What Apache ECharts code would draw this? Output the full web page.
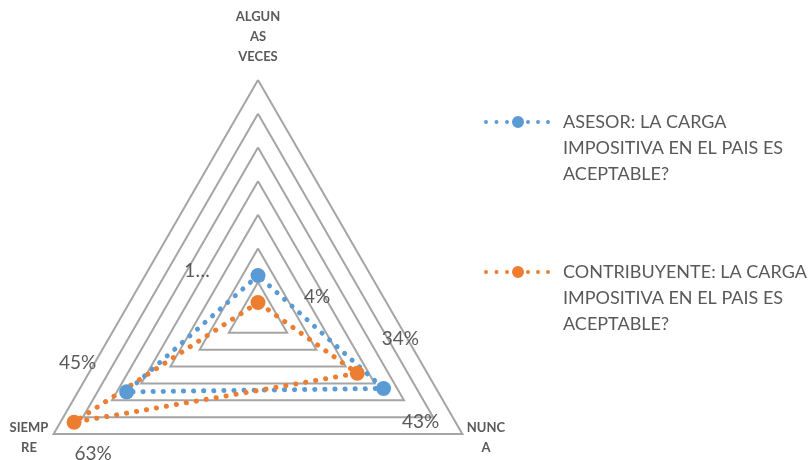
<!DOCTYPE html>
<html>
<head>
<meta charset="utf-8">
<script src="https://cdn.jsdelivr.net/npm/echarts@6/dist/echarts.min.js"></script>
<style>
  html, body { margin: 0; padding: 0; background: #fff; }
  #chart { width: 811px; height: 460px; }
</style>
</head>
<body>
<div id="chart"></div>
<script>
// categories (order: top, bottom-left, bottom-right)
const indicatorNames = ['ALGUNAS VECES', 'SIEMPRE', 'NUNCA'];
const axisNameText = ['ALGUN\nAS\nVECES', 'SIEMP\nRE', 'NUNC\nA'];

// series
const seriesNames = [
  'ASESOR: LA CARGA IMPOSITIVA EN EL PAIS ES ACEPTABLE?',
  'CONTRIBUYENTE: LA CARGA IMPOSITIVA EN EL PAIS ES ACEPTABLE?'
];
const legendText = [
  'ASESOR: LA CARGA\nIMPOSITIVA EN EL PAIS ES\nACEPTABLE?',
  'CONTRIBUYENTE: LA CARGA\nIMPOSITIVA EN EL PAIS ES\nACEPTABLE?'
];
const asesorValues = [12, 45, 43];
const contribValues = [4, 63, 34];
const asesorLabels = ['1…', '45%', '43%'];
const contribLabels = ['4%', '63%', '34%'];

const colors = ['#5B9BD5', '#ED7D31'];
const textColor = '#595959';
const fontFamily = 'Lato, "Noto Sans", sans-serif';

// legend icon: small dots + one big marker
function circlePath(cx, cy, r) {
  return 'M' + (cx - r) + ' ' + cy + ' a' + r + ' ' + r + ' 0 1 0 ' + (2 * r) + ' 0 a' + r + ' ' + r + ' 0 1 0 ' + (-2 * r) + ' 0 Z ';
}
let iconPath = 'path://';
[2, 12.5, 23, 44, 54, 64].forEach(x => { iconPath += circlePath(x, 6, 2); });
iconPath += circlePath(34, 6, 6);

function mainSeries(name, values, color) {
  return {
    type: 'radar',
    name: name,
    symbol: 'circle',
    symbolSize: 15,
    itemStyle: { color: color },
    lineStyle: { color: color, width: 5, type: [0.1, 10], cap: 'round' },
    data: [{ value: values, name: name }]
  };
}

// one transparent series per label, so each label can sit at its own offset
function labelSeries(values, labels, idx, offset) {
  return {
    type: 'radar',
    silent: true,
    symbol: 'circle',
    symbolSize: 1,
    itemStyle: { color: 'rgba(0,0,0,0)' },
    lineStyle: { width: 0, color: 'rgba(0,0,0,0)' },
    label: {
      show: true,
      position: 'inside',
      offset: offset,
      color: textColor,
      fontFamily: fontFamily,
      fontSize: 19,
      formatter: p => (p.value === values[idx] ? labels[idx] : '')
    },
    data: [{ value: values }]
  };
}

const axisNamePos = [[258, 37], [29, 438], [486, 438]];

const chart = echarts.init(document.getElementById('chart'));
const option = {
  animation: false,
  backgroundColor: '#fff',
  color: colors,
  radar: {
    center: [258, 316],
    radius: 236,
    shape: 'polygon',
    splitNumber: 7,
    indicator: indicatorNames.map(n => ({ name: n, min: 0, max: 70 })),
    axisName: { show: false },
    axisLine: { show: false },
    axisTick: { show: false },
    axisLabel: { show: false },
    splitArea: { show: false },
    splitLine: { lineStyle: { color: '#a5a5a5', width: 2 } }
  },
  legend: {
    orient: 'vertical',
    left: 484,
    top: 57,
    padding: 0,
    itemGap: 20,
    itemWidth: 66,
    itemHeight: 12,
    icon: iconPath,
    data: seriesNames,
    // two blank lines first so the first text line sits level with the icon
    formatter: name => '\n\n' + legendText[seriesNames.indexOf(name)],
    textStyle: {
      color: textColor,
      fontFamily: fontFamily,
      fontSize: 18,
      lineHeight: 26,
      padding: [0, 0, 0, 8]
    }
  },
  graphic: axisNameText.map((t, i) => ({
    type: 'text',
    style: {
      x: axisNamePos[i][0],
      y: axisNamePos[i][1],
      text: t,
      align: 'center',
      verticalAlign: 'middle',
      font: 'bold 13px ' + fontFamily,
      lineHeight: 20,
      fill: textColor
    }
  })),
  series: [
    mainSeries(seriesNames[0], asesorValues, colors[0]),
    mainSeries(seriesNames[1], contribValues, colors[1]),
    labelSeries(asesorValues, asesorLabels, 0, [-61, -5]),
    labelSeries(asesorValues, asesorLabels, 1, [-49, -29]),
    labelSeries(asesorValues, asesorLabels, 2, [37, 33]),
    labelSeries(contribValues, contribLabels, 0, [59, -6]),
    labelSeries(contribValues, contribLabels, 1, [19, 32]),
    labelSeries(contribValues, contribLabels, 2, [43, -34])
  ]
};
chart.setOption(option);
</script>
</body>
</html>
